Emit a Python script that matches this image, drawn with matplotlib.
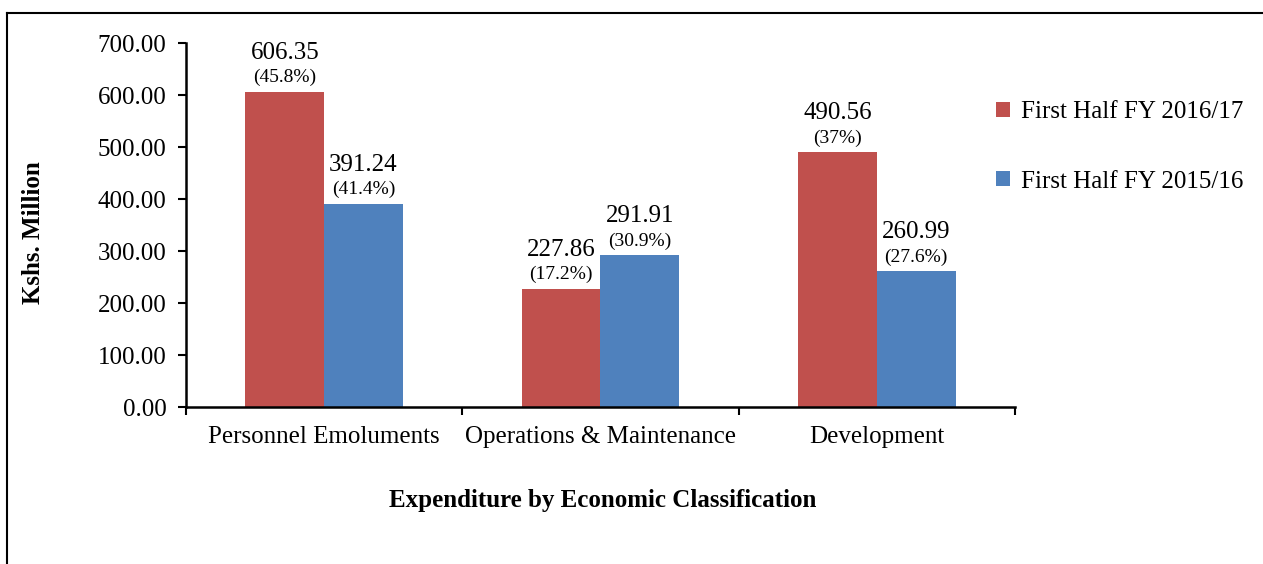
import numpy as np
import matplotlib.pyplot as plt
from matplotlib.lines import Line2D

plt.rcParams['font.family'] = ['Liberation Serif', 'DejaVu Serif']

categories = ['Personnel Emoluments', 'Operations & Maintenance', 'Development']
series_names = ['First Half FY 2016/17', 'First Half FY 2015/16']
values_1617 = [606.35, 227.86, 490.56]
values_1516 = [391.24, 291.91, 260.99]
pct_1617 = ['(45.8%)', '(17.2%)', '(37%)']
pct_1516 = ['(41.4%)', '(30.9%)', '(27.6%)']
colors = ['#C0504D', '#4F81BD']

fig = plt.figure(figsize=(12.63, 5.64), dpi=100)
ax = fig.add_axes([186/1263, 1 - 407/564, (1015-186)/1263, (407-43)/564])

x = np.arange(len(categories))
w = 0.285
for i, (vals, pcts) in enumerate([(values_1617, pct_1617), (values_1516, pct_1516)]):
    off = (i - 0.5) * w
    ax.bar(x + off, vals, w, color=colors[i], label=series_names[i])
    for xi, v, p in zip(x + off, vals, pcts):
        ax.annotate('%.2f' % v, (xi, v), xytext=(0, 28), textcoords='offset points',
                    ha='center', va='center', fontsize=18)
        ax.annotate(p, (xi, v), xytext=(0, 10), textcoords='offset points',
                    ha='center', va='center', fontsize=14)

ax.set_xlim(-0.5, len(categories) - 0.5)
ax.set_ylim(0, 700)
ax.set_yticks(np.arange(0, 701, 100))
ax.set_yticklabels(['%.2f' % t for t in np.arange(0, 701, 100)], fontsize=18)
ax.set_xticks(x)
ax.set_xticklabels(categories, fontsize=18)
ax.tick_params(axis='x', length=0, pad=14)
ax.set_xticks(np.arange(-0.5, len(categories), 1), minor=True)
ax.tick_params(axis='x', which='minor', length=6, width=1.5, direction='out')
ax.tick_params(axis='y', length=6, width=1.5, direction='out', pad=8)
for s in ['top', 'right']:
    ax.spines[s].set_visible(False)
for s in ['left', 'bottom']:
    ax.spines[s].set_linewidth(1.8)

fig.text(33/1263, 1 - 233/564, 'Kshs. Million', rotation=90, ha='center', va='center',
         fontsize=18, fontweight='bold')
fig.text(603/1263, 1 - 500/564, 'Expenditure by Economic Classification', ha='center',
         va='center', fontsize=18, fontweight='bold')

ax.legend(loc='upper left', bbox_to_anchor=(996/1263, 1 - 101/564),
          bbox_transform=fig.transFigure, frameon=False, fontsize=18,
          handlelength=0.55, handleheight=0.55, handletextpad=0.45,
          labelspacing=1.9, borderpad=0, borderaxespad=0)

# frame edges of the original picture
fig.add_artist(Line2D([7/1263, 1], [1 - 13/564, 1 - 13/564], color='black', lw=1.5,
                      transform=fig.transFigure))
fig.add_artist(Line2D([7/1263, 7/1263], [0, 1 - 13/564], color='black', lw=1.5,
                      transform=fig.transFigure))

fig.savefig('out.png', dpi=100)
